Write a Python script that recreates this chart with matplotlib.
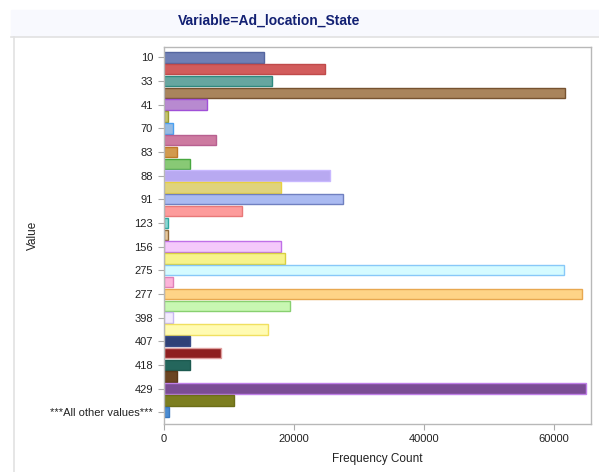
import matplotlib
matplotlib.use("Agg")
import matplotlib.pyplot as plt
from matplotlib.patches import Rectangle
from matplotlib.lines import Line2D

plt.rcParams["font.family"] = ["Liberation Sans", "DejaVu Sans"]

values = ["10", "", "33", "", "41", "", "70", "", "83", "", "88", "", "91", "",
          "123", "", "156", "", "275", "", "277", "", "398", "", "407", "",
          "418", "", "429", "", "***All other values***"]
counts = [15450, 24850, 16700, 61700, 6700, 650, 1350, 8000, 2000, 4080,
          25500, 18100, 27500, 12000, 650, 600, 18000, 18700, 61600, 1350,
          64300, 19400, 1350, 16100, 4100, 8800, 4100, 2100, 65000, 10800, 850]

fills = ["#6f7fb5", "#d25c5c", "#66a6a0", "#a9845c", "#b88ad0", "#c4c46a",
         "#96bbe3", "#cd7aa0", "#d29a4e", "#88c975", "#b8a9f1", "#e0d37c",
         "#aabaf1", "#fd9b9b", "#8ad8d4", "#e6c79c", "#f4c9fb", "#f7f38c",
         "#d5fbff", "#fcb3d9", "#fed487", "#c8f7b2", "#f3ebfe", "#fffbb2",
         "#2f4177", "#8e1f20", "#24665c", "#6b4522", "#7b4d95", "#7c7e20",
         "#4b8cd2"]
edges = ["#5566a0", "#c04a4a", "#2e8a80", "#765230", "#a050d8", "#9a9a30",
         "#4aa0f0", "#b86090", "#c07828", "#48a840", "#c8b8ff", "#e8d040",
         "#7080c0", "#e87878", "#30a8a0", "#906838", "#c070e8", "#d8d040",
         "#88c8f8", "#e080b8", "#e8a850", "#88d070", "#c8b8f0", "#f0e060",
         "#3a4e8a", "#e0a0a0", "#1c5a50", "#5a3818", "#c080e8", "#6c6e18",
         "#3a78c0"]

fig = plt.figure(figsize=(5.99, 4.72), dpi=100)
W, H = 599, 472

# title band and panel frame
fig.patches.append(Rectangle((11 / W, 1 - 36 / H), 1 - 11 / W, 26 / H,
                             transform=fig.transFigure, color="#f8f9fe", zorder=0))
fig.lines.append(Line2D([11 / W, 1], [1 - 36.5 / H] * 2, transform=fig.transFigure,
                        color="#e2e2e2", lw=1.2))
fig.lines.append(Line2D([13.5 / W] * 2, [0, 1 - 36.5 / H], transform=fig.transFigure,
                        color="#e2e2e2", lw=1.2))
fig.text(269 / W, 1 - 21 / H, "Variable=Ad_location_State", ha="center",
         va="center", fontsize=10, fontweight="bold", color="#122073")

ax = fig.add_axes([163.5 / W, 1 - 424 / H, (590.7 - 163.5) / W, (424 - 46.7) / H])
pos = list(range(len(counts)))
ax.barh(pos, counts, height=0.88, color=fills, edgecolor=edges, linewidth=1.0)
ax.set_ylim(len(counts) - 0.0, -0.9)
ax.set_xlim(-50, 65700)
ax.set_yticks(pos[::2])
ax.set_yticklabels(values[::2])
ax.set_xticks([0, 20000, 40000, 60000])
ax.tick_params(colors="#aaaaaa", labelcolor="#222222", labelsize=8, length=4, width=0.8)
for s in ax.spines.values():
    s.set_color("#b8b8b8")
    s.set_linewidth(1.0)
ax.set_xlabel("Frequency Count", fontsize=8.5, color="#222222", labelpad=6)
ax.set_ylabel("Value", fontsize=8.5, color="#222222")
ax.yaxis.set_label_coords((39 - 163.5) / (590.7 - 163.5), 0.5)

plt.savefig("out.png", dpi=100)
plt.close()
